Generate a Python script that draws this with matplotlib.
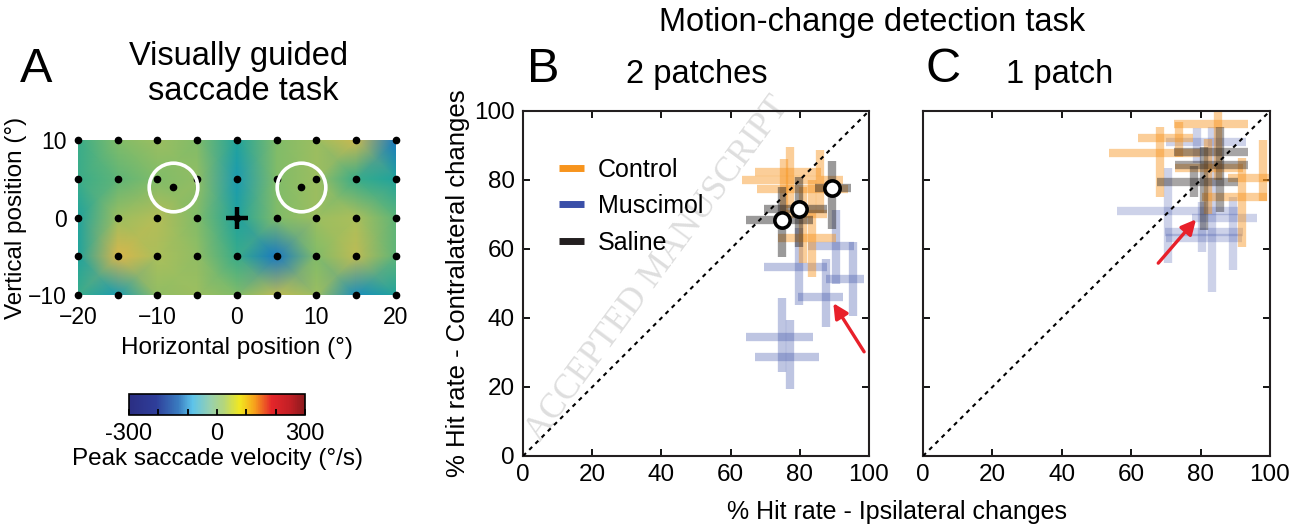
import numpy as np
import matplotlib

matplotlib.use("Agg")
import matplotlib.pyplot as plt
from matplotlib.colors import LinearSegmentedColormap, Normalize
from matplotlib.lines import Line2D
from matplotlib.cm import ScalarMappable

plt.rcParams["font.family"] = ["Liberation Sans", "DejaVu Sans"]

# panel A: peak saccade velocity on the target grid (deg/s)
grid_x = [-20, -15, -10, -5, 0, 5, 10, 15, 20]
grid_y = [-10, -5, 0, 5, 10]
peak_velocity = [
    [-40, -80, 12, 20, 0, 48, 20, -100, -60],
    [-60, 72, 32, 12, -40, -120, 0, 48, -20],
    [-60, 20, 40, 0, -60, 0, 20, 32, -20],
    [-40, -20, 0, 12, -80, 0, 20, -40, -60],
    [-40, 0, 20, 0, -60, 0, 20, 60, -120],
]
patch_x = [-8, 8]
patch_y = [4, 4]
cbar_ticks = [-300, -200, -100, 0, 100, 200, 300]
cbar_labels = ["-300", "", "", "0", "", "", "300"]

# panels B/C: (x, y, x_lo, x_hi, y_lo, y_hi) in % hit rate
b_muscimol = [
    (75.0, 34.6, 64.5, 83.7, 24.4, 45.7),
    (77.2, 28.8, 67.1, 85.6, 19.3, 39.4),
    (79.9, 54.9, 69.7, 88.0, 43.8, 66.0),
    (87.7, 46.2, 79.5, 92.5, 37.5, 57.0),
    (95.3, 51.2, 87.5, 98.6, 40.6, 62.0),
    (90.6, 60.9, 82.5, 95.6, 49.8, 71.3),
]
b_control = [
    (77.2, 82.2, 67.0, 86.0, 72.0, 89.7),
    (75.5, 80.0, 63.2, 92.4, 70.0, 86.0),
    (85.8, 77.3, 67.5, 93.8, 70.3, 88.7),
    (83.4, 63.3, 73.6, 90.5, 52.0, 80.0),
    (81.0, 70.0, 75.0, 88.0, 56.0, 78.0),
]
b_saline = [
    (75.0, 68.4, 64.5, 83.7, 57.8, 78.1),
    (79.7, 71.6, 69.7, 87.9, 60.7, 81.0),
    (89.3, 77.6, 84.4, 94.9, 65.8, 85.6),
]
c_muscimol = [
    (70.7, 71.0, 56.0, 90.9, 56.0, 83.4),
    (83.2, 68.9, 77.4, 96.4, 47.6, 95.5),
    (89.4, 65.0, 69.8, 92.3, 53.9, 75.2),
    (80.3, 63.1, 70.0, 92.0, 59.2, 73.7),
    (79.0, 91.0, 70.0, 93.0, 85.0, 95.0),
]
c_control = [
    (68.3, 87.7, 53.7, 79.8, 75.2, 95.5),
    (73.9, 92.2, 62.1, 77.9, 86.8, 96.9),
    (85.1, 96.2, 72.2, 93.8, 80.0, 99.8),
    (91.8, 75.2, 80.3, 99.0, 60.7, 86.3),
    (98.1, 80.5, 88.0, 99.6, 74.0, 91.6),
    (82.0, 83.4, 72.6, 92.3, 70.0, 92.0),
]
c_saline = [
    (85.5, 88.0, 72.2, 93.8, 70.8, 95.5),
    (81.0, 84.3, 72.6, 93.8, 65.5, 89.7),
    (78.0, 79.5, 67.4, 90.9, 75.0, 84.0),
]
legend_labels = ["Control", "Muscimol", "Saline"]
b_arrow = [(98.6, 30.2), (89.7, 44.3)]
c_arrow = [(67.8, 55.9), (78.7, 68.6)]
hit_ticks = [0, 20, 40, 60, 80, 100]

ORANGE = "#f7941d"
BLUE = "#3a4fa8"
BLACK = "#231f20"
RED = "#e8202a"

heat_cmap = LinearSegmentedColormap.from_list(
    "heat",
    [(0.0, "#1a6fc4"), (0.2, "#1a98b8"), (0.38, "#22a695"),
     (0.6, "#78bb6c"), (0.78, "#a8bf5c"), (1.0, "#dcb64a")],
)
bar_cmap = LinearSegmentedColormap.from_list(
    "bar",
    [(0.0, "#2b2e83"), (0.15, "#2e3d99"), (0.28, "#3a7cc0"), (0.36, "#5dc3ea"),
     (0.46, "#96d0b0"), (0.54, "#b5d67a"), (0.63, "#f2e81f"), (0.71, "#f7a51c"),
     (0.81, "#e5262a"), (0.92, "#c01f25"), (1.0, "#8a1a1d")],
)

fig = plt.figure(figsize=(13.02, 5.29), dpi=100)

# ---- panel A
ax_a = fig.add_axes((0.0599, 0.4423, 0.2442, 0.2930))
gx, gy = np.meshgrid(grid_x, grid_y)
ax_a.pcolormesh(gx, gy, np.array(peak_velocity), shading="gouraud",
                cmap=heat_cmap, norm=Normalize(-130, 75))
ax_a.plot(gx.ravel(), gy.ravel(), "o", color="black", ms=4.5, clip_on=False,
          zorder=4)
ax_a.plot(patch_x, patch_y, "o", color="black", ms=4.5, zorder=4)
ax_a.plot(patch_x, patch_y, "o", mfc="none", mec="white", ms=35, mew=2.6,
          zorder=5)
ax_a.plot([0], [0], "+", color="black", ms=16, mew=3.2, zorder=5)
ax_a.set_xlim(-20, 20)
ax_a.set_ylim(-10, 10)
ax_a.set_xticks([-20, -10, 0, 10, 20])
ax_a.set_yticks([-10, 0, 10])
ax_a.tick_params(length=0, labelsize=16.5, pad=8)
for s in ax_a.spines.values():
    s.set_visible(False)
ax_a.set_xlabel("Horizontal position (°)", fontsize=17.5, labelpad=6)
ax_a.set_ylabel("Vertical position (°)", fontsize=17.5, labelpad=1)

fig.text(239 / 1302, 1 - 56 / 529, "Visually guided", ha="center", va="center",
         fontsize=23.5)
fig.text(243 / 1302, 1 - 92 / 529, "saccade task", ha="center", va="center",
         fontsize=23.5)
fig.text(36 / 1302, 1 - 70 / 529, "A", ha="center", va="center", fontsize=35)

# colorbar
cax = fig.add_axes((0.0991, 0.2155, 0.1352, 0.0397))
cb = fig.colorbar(ScalarMappable(norm=Normalize(-300, 300), cmap=bar_cmap),
                  cax=cax, orientation="horizontal")
cb.set_ticks(cbar_ticks)
cb.set_ticklabels(cbar_labels)
cax.tick_params(direction="in", length=4, width=1.3, labelsize=17, pad=6)
cb.outline.set_linewidth(1.2)
cb.set_label("Peak saccade velocity (°/s)", fontsize=17.5, labelpad=2)


# ---- panels B and C
def draw_crosses(ax, rows, color, alpha):
    for x, y, xlo, xhi, ylo, yhi in rows:
        ax.plot([xlo, xhi], [y, y], color=color, alpha=alpha, lw=6,
                solid_capstyle="butt", zorder=2)
        ax.plot([x, x], [ylo, yhi], color=color, alpha=alpha, lw=6,
                solid_capstyle="butt", zorder=2)


def style_square(ax, show_y):
    ax.set_xlim(0, 100)
    ax.set_ylim(0, 100)
    ax.set_xticks(hit_ticks)
    ax.set_yticks(hit_ticks)
    ax.tick_params(direction="in", length=5, width=1.3, top=True, right=True,
                   labelsize=17.5, pad=6)
    if not show_y:
        ax.set_yticklabels([])
    for s in ax.spines.values():
        s.set_linewidth(1.5)
        s.set_color("#231f20")
    ax.plot([0, 100], [0, 100], color="black", lw=1.5, ls=(0, (2, 2.2)),
            zorder=3)


ax_b = fig.add_axes((0.4017, 0.1380, 0.2657, 0.6522))
ax_c = fig.add_axes((0.7089, 0.1380, 0.2665, 0.6522))

ax_b.text(39, 54, "ACCEPTED MANUSCRIPT", rotation=53.5, ha="center",
          va="center", fontsize=25.5, color="#dedede",
          family="Liberation Serif", zorder=0)

draw_crosses(ax_b, b_muscimol, BLUE, 0.33)
draw_crosses(ax_b, b_control, ORANGE, 0.45)
draw_crosses(ax_b, b_saline, BLACK, 0.45)
ax_b.plot([r[0] for r in b_saline], [r[1] for r in b_saline], "o", mfc="white",
          mec="black", ms=11, mew=2.6, zorder=5)
style_square(ax_b, True)

draw_crosses(ax_c, c_muscimol, BLUE, 0.25)
draw_crosses(ax_c, c_control, ORANGE, 0.45)
draw_crosses(ax_c, c_saline, BLACK, 0.4)
style_square(ax_c, False)

for ax, arrow in [(ax_b, b_arrow), (ax_c, c_arrow)]:
    ax.annotate("", xy=arrow[1], xytext=arrow[0],
                arrowprops=dict(arrowstyle="-|>", color=RED, lw=2.4,
                                mutation_scale=22, shrinkA=0, shrinkB=0),
                zorder=6)

handles = [Line2D([], [], color=c, lw=5, solid_capstyle="butt")
           for c in (ORANGE, BLUE, BLACK)]
ax_b.legend(handles, legend_labels, loc="upper left",
            bbox_to_anchor=(0.04, 0.93), frameon=False, fontsize=18,
            handlelength=1.0, handletextpad=0.55, labelspacing=0.5)

ax_b.set_ylabel("% Hit rate - Contralateral changes", fontsize=18.5,
                labelpad=3)
fig.text(897 / 1302, 1 - 512 / 529, "% Hit rate - Ipsilateral changes",
         ha="center", va="center", fontsize=18)

fig.text(872 / 1302, 1 - 22 / 529, "Motion-change detection task",
         ha="center", va="center", fontsize=23.5)
fig.text(543 / 1302, 1 - 70 / 529, "B", ha="center", va="center", fontsize=35)
fig.text(697 / 1302, 1 - 75 / 529, "2 patches", ha="center", va="center",
         fontsize=23.5)
fig.text(943 / 1302, 1 - 70 / 529, "C", ha="center", va="center", fontsize=35)
fig.text(1060 / 1302, 1 - 75 / 529, "1 patch", ha="center", va="center",
         fontsize=23.5)

fig.savefig("out.png", dpi=100)
